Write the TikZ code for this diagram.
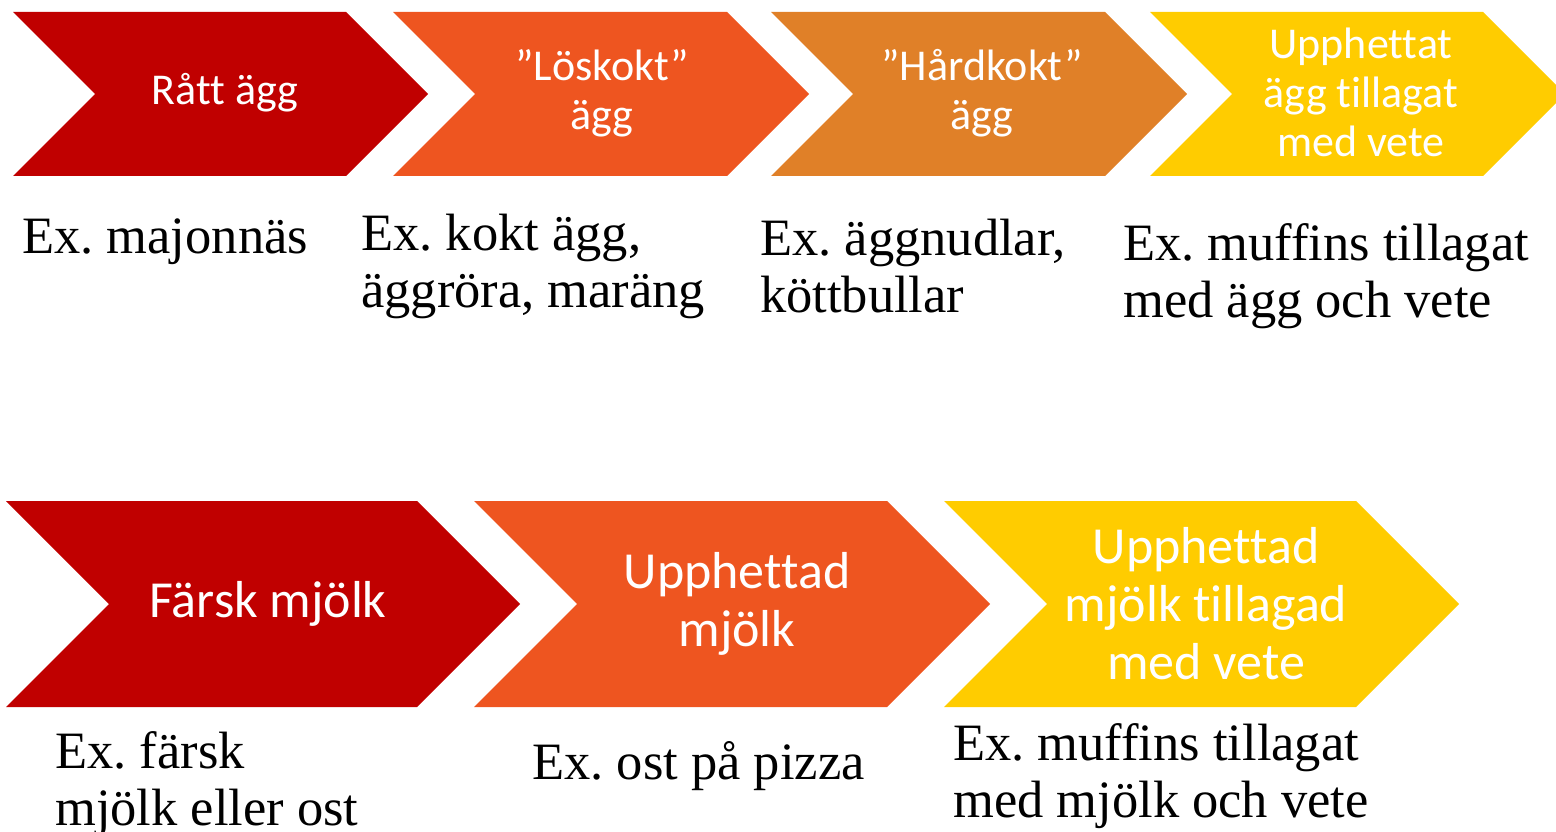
\documentclass[tikz,border=0pt]{standalone}
\usepackage{fontspec}
\setmainfont{Liberation Serif}
\newfontfamily\calfont[Ligatures=NoCommon,RawFeature={-liga;-clig;-calt;-dlig}]{Carlito}
\definecolor{cred}{HTML}{C00000}
\definecolor{corange}{HTML}{EE5520}
\definecolor{cbrown}{HTML}{E08028}
\definecolor{cyellow}{HTML}{FFCC00}
\tikzset{
  toptxt/.style={text=white, align=center, inner sep=0pt, font=\calfont\fontsize{44}{49}\selectfont},
  bottxt/.style={text=white, align=center, inner sep=0pt, font=\calfont\fontsize{52}{58}\selectfont},
  extxt/.style={text=black, align=left, inner sep=0pt, anchor=north west, font=\frenchspacing\fontsize{52.5}{57}\selectfont},
}
\begin{document}
\begin{tikzpicture}[x=1pt,y=-1pt]
\useasboundingbox (0,0) rectangle (1556,832);
\clip (0,0) rectangle (1556,832);
% top row chevrons: top 12, bottom 176, mid 94, depth 82
\fill[cred]    (13,12) -- (346,12) -- (428,94) -- (346,176) -- (13,176) -- (95,94) -- cycle;
\fill[corange] (393,12) -- (727,12) -- (809,94) -- (727,176) -- (393,176) -- (475,94) -- cycle;
\fill[cbrown]  (771,12) -- (1105,12) -- (1187,94) -- (1105,176) -- (771,176) -- (853,94) -- cycle;
\fill[cyellow] (1150,12) -- (1483,12) -- (1565,94) -- (1483,176) -- (1150,176) -- (1232,94) -- cycle;
% bottom row chevrons: top 501, bottom 707, mid 604, depth 103
\fill[cred]    (6,501) -- (417,501) -- (520,604) -- (417,707) -- (6,707) -- (109,604) -- cycle;
\fill[corange] (474,501) -- (887,501) -- (990,604) -- (887,707) -- (474,707) -- (577,604) -- cycle;
\fill[cyellow] (944,501) -- (1356,501) -- (1459,604) -- (1356,707) -- (944,707) -- (1047,604) -- cycle;
% chevron labels
\node[toptxt] (t1) at (225,93) {Rått ägg};
\node[toptxt] (t2) at (602,93) {”Löskokt”\\ägg};
\node[toptxt] (t3) at (982,93) {”Hårdkokt”\\ägg};
\node[toptxt] (t4) at (1361,92) {Upphettat\\ägg tillagat\\med vete};
\node[bottxt] (b1) at (268,604) {Färsk mjölk};
\node[bottxt] (b2) at (737,604) {Upphettad\\mjölk};
\node[bottxt] (b3) at (1206,604) {Upphettad\\mjölk tillagad\\med vete};
% examples
\node[extxt] (e1) at (22,219) {Ex. majonnäs};
\node[extxt] (e2) at (361,214) {Ex. kokt ägg,\\äggröra, maräng};
\node[extxt] (e3) at (760,219) {Ex. äggnudlar,\\köttbullar};
\node[extxt] (e4) at (1123,223) {Ex. muffins tillagat\\med ägg och vete};
\node[extxt] (f1) at (55,731) {Ex. färsk\\mjölk eller ost};
\node[extxt] (f2) at (532,741) {Ex. ost på pizza};
\node[extxt] (f3) at (953,723) {Ex. muffins tillagat\\med mjölk och vete};
\end{tikzpicture}
\end{document}
